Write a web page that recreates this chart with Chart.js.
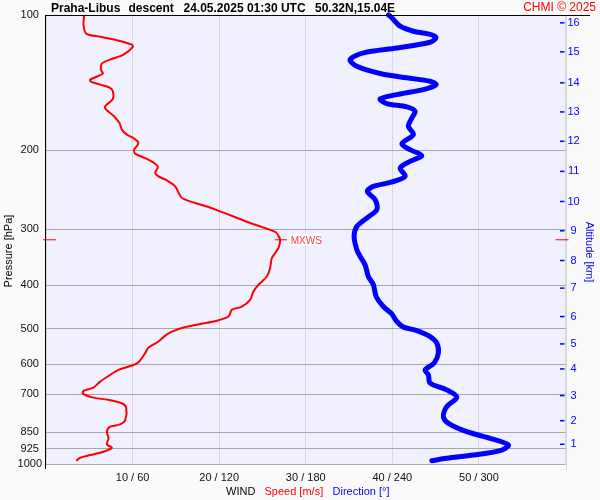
<!DOCTYPE html>
<html><head><meta charset="utf-8">
<script src="https://cdn.jsdelivr.net/npm/chart.js@4/dist/chart.umd.min.js"></script>
<style>html,body{margin:0;padding:0;background:#fafafa}#wrap{width:600px;height:500px}</style>
</head><body><div id="wrap"><canvas id="c" width="600" height="500"></canvas></div>
<script>
// ---- data ----
const pressureTicks = [100,200,300,400,500,600,700,850,925,1000];
const altKm = [1,2,3,4,5,6,7,8,9,10,11,12,13,14,15,16];
const altP = [903.9,800.9,704.1,614.1,540.2,469.5,405.8,352.2,302.4,260.2,223.0,191.1,164.4,141.6,120.8,104.1];
const speedTicks = [10,20,30,40,50];
const speedP = [100,105.0,110.0,111.8,113.8,116.4,117.7,122.5,125.7,128.3,132.3,135.0,139.3,140.7,142.9,145.3,147.9,153.8,159.7,162.5,167.6,174.0,180.0,184.7,187.9,192.8,199.5,203.6,209.2,214.4,218.0,224.8,228.8,233.5,240.9,248.4,255.6,261.5,266.9,273.8,281.0,290.6,299.3,305.0,313.9,317.7,
 330.4,347.8,366.1,382.2,398.9,412.8,430.8,445.9,453.5,469.4,479.8,488.0,496.6,507.0,515.6,533.7,550.4,566.4,593.2,603.6,617.1,633.1,655.3,675.8,687.4,697.0,711.4,721.0,732.2,748.9,798.0,815.8,825.9,847.4,876.6,904.1,920.0,939.1,955.1,968.4,983.2];
const speedV = [4.41,4.33,4.64,6.26,8.19,9.92,10.03,8.95,7.41,6.45,6.34,6.57,5.10,5.18,6.26,7.41,7.72,7.72,6.84,6.95,7.79,8.49,8.76,9.34,10.10,10.68,10.18,10.30,11.65,12.61,12.92,12.61,12.99,13.96,14.92,15.30,15.69,17.03,18.58,20.11,21.65,23.58,25.51,26.58,26.96,27.04,
 26.85,26.08,25.89,25.51,24.54,23.96,23.58,22.62,21.47,21.07,19.73,17.81,15.88,14.54,13.88,12.99,11.84,11.45,10.68,9.92,8.37,7.41,6.26,5.48,4.33,4.26,5.48,7.41,8.76,9.26,9.15,8.57,7.41,7.03,7.22,7.03,7.61,6.64,5.10,3.95,3.49];
const dirP = [100,101.4,105.9,108.7,110.5,112.4,115.0,118.4,121.4,125.7,130.1,135.0,138.0,140.5,142.9,146.6,150.4,153.8,157.5,160.2,163.9,169.6,177.0,184.7,193.5,199.5,205.7,211.8,219.1,228.8,236.0,240.9,247.1,257.9,271.5,283.3,295.8,311.3,333.3,345.0,360.0,382.2,398.9,423.6,445.9,463.0,481.6,495.6,504.4,520.1,538.1,566.4,596.3,617.1,633.1,660.7,683.9,710.0,745.1,784.6,811.7,847.4,876.6,907.4,933.9,955.1,971.2,983.2];
const dirV = [237.3,239.6,245.4,254.6,266.2,270.3,266.2,243.1,220.0,210.7,215.4,231.5,250.0,266.2,270.3,261.5,243.1,231.5,236.2,250.0,255.8,253.5,251.1,254.6,246.6,252.3,260.4,252.3,245.4,248.9,238.5,226.9,222.7,228.1,229.2,222.3,215.4,213.5,215.4,217.7,221.1,223.4,226.9,228.8,233.8,239.6,243.1,247.7,257.0,266.2,270.8,271.9,268.9,262.7,265.0,266.2,277.7,284.7,277.7,275.4,278.9,291.6,307.7,320.4,314.7,296.2,277.7,267.4];
const mxwsP = 316.7, mxwsV = 27.0;
const titleParts = ["Praha-Libus","descent","24.05.2025 01:30 UTC","50.32N,15.04E"];

// ---- chart ----
const FF = '"Liberation Sans", Arial, sans-serif';
Chart.defaults.font.family = FF;

const decor = {
  id: 'decor',
  beforeDraw(chart) {
    const {ctx, chartArea: a} = chart;
    ctx.save();
    ctx.fillStyle = '#fafafa'; ctx.fillRect(0,0,chart.width,chart.height);
    ctx.fillStyle = '#f0f0ff'; ctx.fillRect(a.left, a.top, a.right-a.left, a.bottom-a.top);
    ctx.restore();
  },
  afterDraw(chart) {
    const {ctx, chartArea: a} = chart;
    const y = chart.scales.y, yAlt = chart.scales.yAlt, x = chart.scales.x;
    ctx.save();
    ctx.strokeStyle = '#d8d8d8'; ctx.lineWidth = 1;
    ctx.beginPath(); ctx.moveTo(Math.round(a.right)+0.5, a.top); ctx.lineTo(Math.round(a.right)+0.5, a.bottom+6); ctx.stroke();
    ctx.strokeStyle = '#000';
    ctx.beginPath(); ctx.moveTo(Math.round(a.left)-0.5, a.top); ctx.lineTo(Math.round(a.left)-0.5, a.bottom+5); ctx.stroke();
    ctx.beginPath(); ctx.moveTo(a.left-1, Math.round(a.top)+0.5); ctx.lineTo(590, Math.round(a.top)+0.5); ctx.stroke();
    ctx.strokeStyle = '#0000ff'; ctx.lineWidth = 1.5;
    altP.forEach(p => { const py = yAlt.getPixelForValue(p); ctx.beginPath(); ctx.moveTo(a.right-5.5, py); ctx.lineTo(a.right-1, py); ctx.stroke(); });
    ctx.fillStyle = '#000'; ctx.font = 'bold 12px ' + FF; ctx.textBaseline = 'alphabetic'; ctx.textAlign = 'left';
    const tx = [51, 128.5, 183.5, 315];
    titleParts.forEach((t,i) => ctx.fillText(t, tx[i], 12));
    ctx.fillStyle = '#ff0000'; ctx.font = '12px ' + FF; ctx.textAlign = 'right';
    ctx.fillText('CHMI \u00A9 2025', 596, 11);
    ctx.font = '11px ' + FF; ctx.textAlign = 'center'; ctx.textBaseline = 'middle';
    ctx.save(); ctx.translate(8.5, 251); ctx.rotate(-Math.PI/2); ctx.fillStyle = '#000'; ctx.fillText('Pressure [hPa]', 0, 0); ctx.restore();
    ctx.save(); ctx.translate(589, 252); ctx.rotate(Math.PI/2); ctx.fillStyle = '#0000ff'; ctx.fillText('Altitude [km]', 0, 0); ctx.restore();
    ctx.textAlign = 'left'; ctx.textBaseline = 'alphabetic'; ctx.font = '11px ' + FF;
    ctx.fillStyle = '#000'; ctx.fillText('WIND', 226, 495);
    ctx.fillStyle = '#ff0000'; ctx.fillText('Speed [m/s]', 264.5, 495);
    ctx.fillStyle = '#0000ff'; ctx.fillText('Direction [\u00B0]', 332.5, 495);
    const my = y.getPixelForValue(mxwsP), mx = x.getPixelForValue(mxwsV);
    ctx.strokeStyle = '#ff0000'; ctx.lineWidth = 1;
    ctx.beginPath(); ctx.moveTo(a.left-3, my); ctx.lineTo(a.left+10, my); ctx.stroke();
    ctx.beginPath(); ctx.moveTo(a.right-10, my); ctx.lineTo(a.right+3, my); ctx.stroke();
    ctx.beginPath(); ctx.moveTo(mx-5, my); ctx.lineTo(mx+7, my); ctx.moveTo(mx, my-4); ctx.lineTo(mx, my+4); ctx.stroke();
    ctx.fillStyle = 'rgba(255,255,255,0.85)'; ctx.fillRect(mx+10, my-6, 31, 12);
    ctx.fillStyle = '#ff4040'; ctx.font = '10px ' + FF; ctx.textBaseline = 'middle';
    ctx.fillText('MXWS', mx+11, my+1);
    ctx.restore();
  }
};

new Chart(document.getElementById('c'), {
  type: 'scatter',
  data: { datasets: [
    { label: 'Direction', data: dirP.map((p,i)=>({x: dirV[i], y: p})), xAxisID: 'xDir', yAxisID: 'y',
      showLine: true, borderColor: '#0000ff', borderWidth: 5, pointRadius: 0, tension: 0.3,
      borderJoinStyle: 'round', borderCapStyle: 'round', clip: false },
    { label: 'Speed', data: speedP.map((p,i)=>({x: speedV[i], y: p})), xAxisID: 'x', yAxisID: 'y',
      showLine: true, borderColor: '#ff0000', borderWidth: 2, pointRadius: 0, tension: 0.3,
      borderJoinStyle: 'round', clip: false }
  ]},
  options: {
    responsive: false, animation: false, devicePixelRatio: 1,
    layout: { padding: { top: 15, left: 0, right: 0, bottom: 0 } },
    plugins: { legend: { display: false }, tooltip: { enabled: false }, title: { display: false } },
    scales: {
      x: { type: 'linear', position: 'bottom', min: 0, max: 60,
        afterFit: s => { s.height = 36; },
        afterBuildTicks: s => { s.ticks = [0, ...speedTicks, 60].map(v => ({value: v})); },
        grid: { color: '#d8d8d8', drawTicks: false }, border: { display: false },
        ticks: { padding: 7, color: '#111', font: { size: 11 }, maxRotation: 0, autoSkip: false,
          callback: v => (speedTicks.includes(v) ? v + ' / ' + (v*6) : '') } },
      xDir: { type: 'linear', min: 0, max: 360, display: false },
      y: { type: 'logarithmic', position: 'left', min: 100, max: 1000, reverse: true,
        afterFit: s => { s.width = 46; },
        afterBuildTicks: s => { s.ticks = pressureTicks.map(v => ({value: v})); },
        grid: { color: '#a8a8a8', drawTicks: false }, border: { display: false },
        ticks: { crossAlign: 'center', padding: 4, color: '#111', font: { size: 11 }, autoSkip: false,
          callback: v => String(v) } },
      yAlt: { type: 'logarithmic', position: 'right', min: 100, max: 1000, reverse: true,
        afterFit: s => { s.width = 34.5; },
        afterBuildTicks: s => { s.ticks = altP.map(v => ({value: v})); },
        grid: { display: false, drawOnChartArea: false, drawTicks: false, tickLength: 0 }, border: { display: false },
        ticks: { crossAlign: 'center', padding: 2, color: '#0000ff', font: { size: 11 }, autoSkip: false,
          callback: (v, i) => String(altKm[i]) } }
    }
  },
  plugins: [decor]
});
</script></body></html>
